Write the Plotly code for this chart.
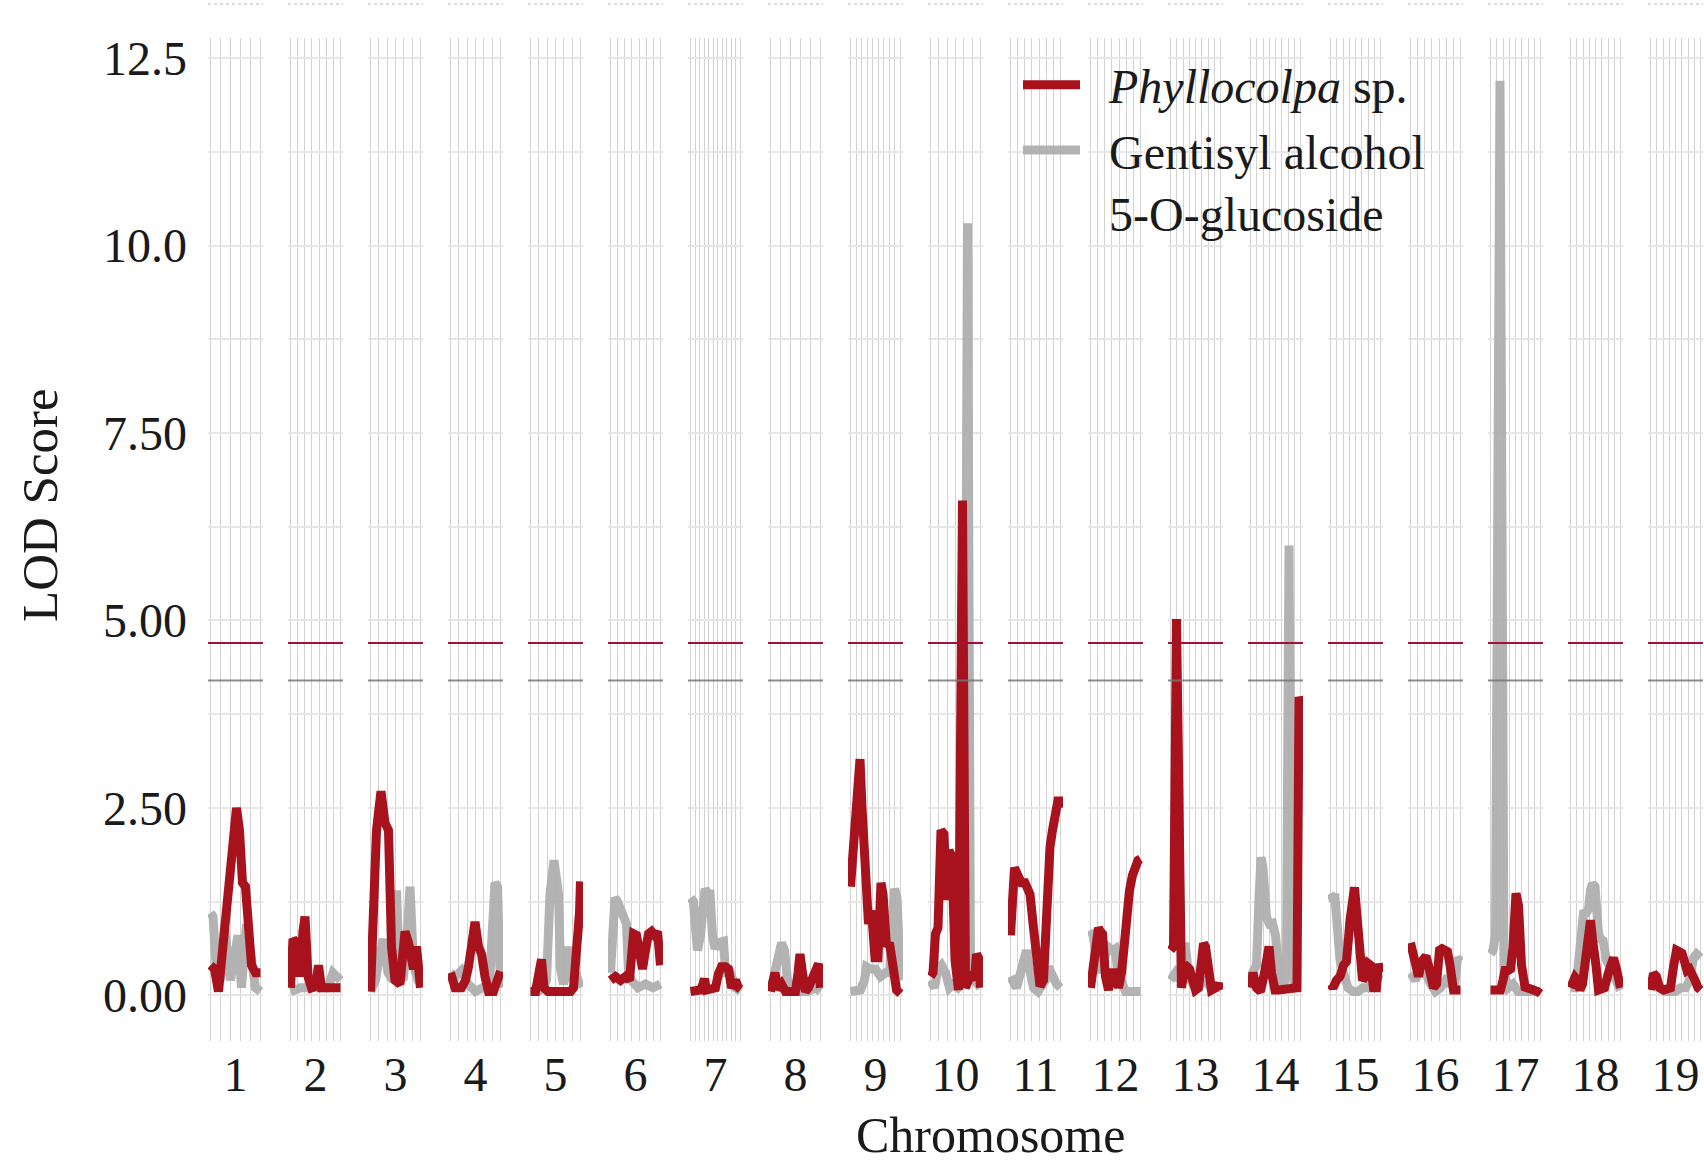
import numpy as np
import plotly.graph_objects as go

# ---- data: LOD profiles per chromosome (position scaled 0-100 within each chromosome)
CHROMOSOMES = [str(i) for i in range(1, 20)]

PHYLLO_POS = [
    [0, 8, 16, 24, 32, 38, 46, 52, 58, 64, 70, 76, 82, 90, 100],
    [0, 5, 12, 19, 25, 29, 35, 42, 50, 56, 62, 75, 90, 100],
    [0, 3, 6, 12, 21, 29, 36, 42, 49, 59, 69, 76, 86, 92, 100],
    [0, 9, 22, 30, 36, 42, 49, 56, 62, 69, 76, 86, 96, 100],
    [0, 10, 17, 22, 27, 35, 50, 65, 80, 86, 90, 95, 98, 100],
    [0, 10, 20, 30, 38, 42, 46, 52, 58, 64, 70, 76, 82, 88, 94, 100],
    [0, 10, 20, 25, 28, 32, 40, 50, 56, 62, 70, 76, 82, 90, 96, 100],
    [0, 5, 9, 14, 22, 30, 40, 50, 55, 59, 64, 70, 76, 85, 92, 96, 100],
    [0, 4, 8, 13, 19, 23, 27, 31, 36, 42, 49, 55, 61, 65, 72, 78, 86, 92, 100],
    [0, 5, 10, 15, 21, 27, 32, 37, 43, 49, 56, 64, 70, 76, 82, 88, 92, 96, 100],
    [0, 3, 8, 16, 22, 29, 35, 39, 46, 52, 59, 66, 72, 79, 84, 89, 96, 100],
    [0, 5, 10, 16, 20, 24, 30, 36, 42, 49, 56, 62, 68, 72, 78, 84, 89, 95, 100],
    [0, 6, 12, 18, 22, 28, 33, 38, 44, 50, 56, 62, 66, 70, 76, 82, 90, 96, 100],
    [0, 5, 12, 20, 28, 32, 37, 42, 49, 56, 62, 70, 80, 88, 93, 97, 100],
    [0, 5, 12, 19, 26, 32, 39, 44, 48, 52, 58, 64, 70, 76, 80, 86, 92, 96, 100],
    [0, 5, 10, 16, 22, 27, 31, 36, 40, 46, 52, 58, 63, 68, 74, 79, 86, 92, 100],
    [0, 10, 20, 25, 29, 35, 40, 45, 51, 56, 62, 69, 78, 86, 94, 100],
    [0, 5, 9, 14, 19, 24, 29, 33, 36, 40, 44, 48, 51, 56, 62, 68, 76, 82, 86, 92, 100],
    [0, 6, 12, 18, 26, 34, 40, 46, 52, 58, 63, 68, 73, 78, 83, 89, 95, 100],
]
PHYLLO_LOD = [
    [0.4, 0.35, 0.05, 0.6, 1.2, 1.65, 1.9, 2.5, 2.2, 1.5, 1.45, 0.9, 0.4, 0.3, 0.3],
    [0.1, 0.75, 0.7, 0.25, 0.85, 1.05, 0.25, 0.1, 0.12, 0.4, 0.1, 0.1, 0.1, 0.1],
    [0.05, 0.6, 1.15, 2.2, 2.72, 2.3, 2.2, 0.65, 0.2, 0.15, 0.85, 0.7, 0.35, 0.65, 0.1],
    [0.3, 0.1, 0.1, 0.2, 0.38, 0.8, 0.98, 0.65, 0.55, 0.25, 0.05, 0.05, 0.3, 0.32],
    [0.05, 0.05, 0.3, 0.48, 0.1, 0.05, 0.05, 0.05, 0.05, 0.1, 0.5, 0.55, 1.1, 1.52],
    [0.2, 0.25, 0.2, 0.25, 0.2, 0.5, 0.82, 0.8, 0.45, 0.35, 0.6, 0.82, 0.85, 0.8, 0.85, 0.4],
    [0.05, 0.05, 0.07, 0.15, 0.22, 0.07, 0.07, 0.1, 0.29, 0.38, 0.38, 0.35, 0.1, 0.2, 0.1, 0.08],
    [0.05, 0.2, 0.3, 0.08, 0.15, 0.05, 0.05, 0.05, 0.3, 0.55, 0.3, 0.05, 0.1, 0.25, 0.35, 0.42, 0.1],
    [1.45, 1.8, 2.2, 2.9, 3.15, 2.5, 1.8, 1.13, 0.95, 1.13, 0.5, 0.5, 1.5, 1.35, 0.65, 0.7, 0.25, 0.07, 0.02],
    [0.25, 0.3, 0.82, 0.9, 2.2, 2.15, 1.27, 1.93, 1.85, 0.47, 0.07, 6.6, 0.1, 0.25, 0.3, 0.2, 0.55, 0.5, 0.1],
    [0.8, 1.5, 1.7, 1.58, 1.5, 1.5, 1.4, 1.35, 0.9, 0.47, 0.12, 0.2, 1.13, 1.98, 2.2, 2.38, 2.64, 2.5],
    [0.1, 0.3, 0.6, 0.9, 0.85, 0.82, 0.25, 0.07, 0.3, 0.3, 0.1, 0.3, 0.7, 1.13, 1.4, 1.6, 1.72, 1.8, 1.82],
    [0.6, 0.65, 5.02, 0.3, 0.1, 0.35, 0.38, 0.35, 0.2, 0.07, 0.1, 0.5, 0.69, 0.65, 0.3, 0.07, 0.1, 0.15, 0.07],
    [0.1, 0.3, 0.1, 0.05, 0.3, 0.47, 0.65, 0.3, 0.07, 0.07, 0.07, 0.07, 0.07, 0.07, 0.1, 3.98, 3.9],
    [0.15, 0.1, 0.2, 0.25, 0.4, 0.45, 1.0, 1.2, 1.44, 1.13, 0.5, 0.2, 0.25, 0.42, 0.4, 0.1, 0.1, 0.42, 0.3],
    [0.7, 0.55, 0.45, 0.25, 0.45, 0.5, 0.52, 0.4, 0.2, 0.1, 0.15, 0.6, 0.62, 0.6, 0.58, 0.4, 0.07, 0.07, 0.07],
    [0.07, 0.07, 0.07, 0.2, 0.33, 0.33, 0.35, 0.64, 1.36, 1.2, 0.4, 0.11, 0.07, 0.07, 0.05, 0.02],
    [0.1, 0.15, 0.24, 0.2, 0.07, 0.15, 0.4, 0.8, 0.9, 1.0, 0.75, 0.6, 0.4, 0.07, 0.07, 0.1, 0.3, 0.45, 0.5, 0.35, 0.1],
    [0.07, 0.29, 0.25, 0.1, 0.07, 0.07, 0.1, 0.38, 0.6, 0.58, 0.56, 0.45, 0.33, 0.35, 0.3, 0.2, 0.1, 0.07],
]

GENT_POS = [
    [0, 5, 12, 20, 28, 40, 55, 62, 72, 80, 90, 100],
    [0, 20, 40, 60, 75, 85, 95, 100],
    [0, 10, 20, 26, 35, 45, 52, 58, 65, 72, 79, 86, 95, 100],
    [0, 10, 22, 35, 50, 65, 78, 84, 89, 94, 98, 100],
    [0, 15, 25, 32, 39, 44, 47, 51, 56, 60, 66, 72, 76, 82, 90, 100],
    [0, 5, 9, 14, 20, 26, 32, 36, 42, 55, 70, 85, 100],
    [0, 6, 10, 14, 20, 25, 29, 35, 39, 44, 49, 55, 62, 66, 70, 80, 90, 100],
    [0, 5, 12, 18, 22, 28, 34, 45, 60, 75, 90, 100],
    [0, 10, 20, 28, 32, 40, 50, 60, 70, 78, 84, 88, 93, 97, 100],
    [0, 8, 15, 22, 30, 38, 46, 55, 62, 68, 74, 80, 88, 95, 100],
    [0, 5, 12, 20, 27, 32, 38, 46, 55, 62, 70, 76, 84, 92, 100],
    [0, 5, 10, 20, 28, 36, 44, 49, 55, 62, 70, 80, 90, 100],
    [0, 10, 20, 25, 29, 34, 40, 50, 60, 70, 80, 90, 100],
    [0, 6, 12, 17, 21, 25, 32, 38, 44, 50, 56, 60, 66, 72, 77, 82, 88, 94, 100],
    [0, 4, 9, 14, 19, 26, 35, 45, 55, 65, 75, 85, 95, 100],
    [0, 10, 20, 30, 40, 50, 60, 70, 80, 88, 94, 100],
    [0, 5, 10, 19, 27, 35, 45, 55, 65, 75, 85, 95, 100],
    [0, 8, 14, 20, 26, 32, 36, 40, 44, 49, 53, 56, 60, 65, 72, 80, 88, 94, 100],
    [0, 10, 20, 30, 40, 50, 60, 70, 78, 86, 92, 100],
]
GENT_LOD = [
    [1.1, 1.05, 0.3, 0.2, 0.9, 0.2, 0.8, 0.1, 0.95, 0.6, 0.1, 0.05],
    [0.05, 0.1, 0.1, 0.1, 0.1, 0.3, 0.25, 0.2],
    [0.05, 0.2, 0.6, 0.75, 0.3, 0.2, 1.4, 0.3, 0.2, 0.6, 1.45, 0.4, 0.2, 0.15],
    [0.3, 0.25, 0.33, 0.15, 0.05, 0.1, 0.15, 0.9, 1.5, 1.45, 0.5, 0.1],
    [0.05, 0.05, 0.1, 0.2, 1.35, 1.7, 1.8, 1.6, 1.35, 0.35, 0.15, 0.3, 0.65, 0.2, 0.3, 0.1],
    [0.3, 1.0, 1.3, 1.25, 1.15, 1.0, 0.95, 0.3, 0.2, 0.1, 0.15, 0.1, 0.15],
    [1.3, 1.25, 0.9, 0.6, 0.8, 1.2, 1.42, 1.35, 1.35, 0.8, 0.62, 0.7, 0.7, 0.72, 0.3, 0.3, 0.1, 0.05],
    [0.05, 0.2, 0.45, 0.65, 0.7, 0.6, 0.2, 0.05, 0.05, 0.05, 0.1, 0.05],
    [0.05, 0.05, 0.07, 0.2, 0.38, 0.35, 0.35, 0.25, 0.3, 0.3, 1.25, 1.42, 1.3, 0.9, 0.2],
    [0.2, 0.1, 0.35, 0.4, 0.3, 0.1, 0.15, 0.1, 0.15, 0.3, 10.3, 0.3, 0.2, 0.15, 0.1],
    [0.25, 0.15, 0.1, 0.3, 0.45, 0.6, 0.35, 0.1, 0.05, 0.1, 0.2, 0.38, 0.25, 0.15, 0.1],
    [0.87, 0.8, 0.6, 0.3, 0.5, 0.64, 0.6, 0.62, 0.3, 0.15, 0.05, 0.05, 0.05, 0.05],
    [0.2, 0.3, 0.2, 0.4, 0.7, 0.4, 0.2, 0.1, 0.15, 0.2, 0.1, 0.1, 0.1],
    [0.25, 0.35, 0.4, 1.3, 1.84, 1.7, 1.04, 0.95, 0.96, 0.8, 0.35, 0.07, 0.1, 0.5, 6.0, 0.5, 0.1, 0.1, 0.1],
    [1.36, 1.3, 1.3, 0.9, 0.47, 0.3, 0.1, 0.05, 0.05, 0.1, 0.1, 0.2, 0.25, 0.2],
    [0.3, 0.2, 0.38, 0.3, 0.15, 0.05, 0.1, 0.2, 0.15, 0.1, 0.5, 0.45],
    [0.55, 0.6, 0.8, 12.2, 0.3, 0.1, 0.15, 0.05, 0.05, 0.05, 0.05, 0.05, 0.05],
    [0.1, 0.1, 0.3, 0.6, 1.09, 1.1, 1.15, 1.4, 1.49, 1.45, 1.0, 0.82, 0.75, 0.73, 0.47, 0.35, 0.25, 0.2, 0.07],
    [0.1, 0.2, 0.1, 0.05, 0.05, 0.05, 0.1, 0.1, 0.2, 0.5, 0.55, 0.5],
]

# vertical grid lines drawn inside each chromosome panel
GRID_LINES = [6, 8, 7, 7, 7, 8, 12, 6, 10, 7, 8, 8, 9, 9, 9, 8, 9, 9, 9]

Y_TICKS = [0, 2.5, 5, 7.5, 10, 12.5]
Y_TICK_LABELS = ["0.00", "2.50", "5.00", "7.50", "10.0", "12.5"]
Y_MINOR = [1.25, 3.75, 6.25, 8.75, 11.25]

THRESH_PHYLLO = 4.7
THRESH_GENT = 4.2

# non-breaking spaces keep a gap between legend swatch and label
PAD = "\u00a0\u00a0"
SERIES_NAMES = [PAD + "<i>Phyllocolpa</i> sp.",
                PAD + "Gentisyl alcohol<br>" + PAD + "5-O-glucoside"]

# ---- styling
RED = "#a8121d"
GREY = "rgba(172,172,172,0.92)"
FONT = "Liberation Serif, 'DejaVu Serif', serif"
W, H = 1704, 1163
ML, MR, MT, MB = 208, 1, 38, 122
PLOT_W = W - ML - MR
PLOT_H = H - MT - MB
PANEL_W, PANEL_STEP = 55, 80
Y_RANGE = [-0.61, 12.77]
X_RANGE = [-5, 105]
LINE_W = 9

fig = go.Figure()

for i, chrom in enumerate(CHROMOSOMES):
    n = i + 1
    xa = "x" if n == 1 else f"x{n}"
    ya = "y" if n == 1 else f"y{n}"
    fig.add_trace(go.Scatter(
        x=GENT_POS[i], y=GENT_LOD[i], xaxis=xa, yaxis=ya,
        mode="lines", line=dict(color=GREY, width=LINE_W),
        name=SERIES_NAMES[1], legendgroup="gent", legendrank=2,
        showlegend=(n == 1), hoverinfo="skip",
    ))
    fig.add_trace(go.Scatter(
        x=PHYLLO_POS[i], y=PHYLLO_LOD[i], xaxis=xa, yaxis=ya,
        mode="lines", line=dict(color=RED, width=LINE_W),
        name=SERIES_NAMES[0], legendgroup="phyllo", legendrank=1,
        showlegend=(n == 1), hoverinfo="skip",
    ))

layout = dict(
    width=W, height=H,
    margin=dict(l=ML, r=MR, t=MT, b=MB),
    paper_bgcolor="white", plot_bgcolor="white",
    font=dict(family=FONT, size=48, color="#1a1a1a"),
    showlegend=True,
    legend=dict(
        x=(1018 - ML) / PLOT_W, y=1 - (47 - MT) / PLOT_H,
        xanchor="left", yanchor="top",
        bgcolor="rgba(255,255,255,0)", font=dict(size=48),
        itemwidth=57, valign="top", tracegroupgap=0,
    ),
)

shapes = []
annotations = []
for i, chrom in enumerate(CHROMOSOMES):
    n = i + 1
    left = i * PANEL_STEP
    dom = [left / PLOT_W, min(1.0, (left + PANEL_W) / PLOT_W)]
    xkey = "xaxis" if n == 1 else f"xaxis{n}"
    ykey = "yaxis" if n == 1 else f"yaxis{n}"
    ya = "y" if n == 1 else f"y{n}"
    xa = "x" if n == 1 else f"x{n}"
    layout[xkey] = dict(
        domain=dom, range=X_RANGE, anchor=ya,
        tickmode="array", tickvals=[50], ticktext=[chrom],
        showgrid=False, zeroline=False, showline=False, ticks="",
        ticklabelstandoff=1, tickfont=dict(size=48),
        minor=dict(tickvals=list(np.linspace(0, 100, GRID_LINES[i])),
                   showgrid=True, gridcolor="#d2d2d2", gridwidth=1.2, ticks=""),
        fixedrange=True,
    )
    layout[ykey] = dict(
        domain=[0, 1], range=Y_RANGE, anchor=xa,
        tickmode="array", tickvals=Y_TICKS, ticktext=Y_TICK_LABELS,
        showticklabels=(n == 1), ticklabelstandoff=20,
        showgrid=True, gridcolor="#e6e6e6", gridwidth=2,
        minor=dict(tickvals=Y_MINOR, showgrid=True, gridcolor="#e6e6e6", gridwidth=2, ticks=""),
        zeroline=False, showline=False, ticks="", fixedrange=True,
    )
    # significance thresholds
    shapes.append(dict(type="line", xref=f"{xa} domain", x0=0, x1=1, yref=ya,
                       y0=THRESH_PHYLLO, y1=THRESH_PHYLLO,
                       line=dict(color="#a0123a", width=2), layer="above"))
    shapes.append(dict(type="line", xref=f"{xa} domain", x0=0, x1=1, yref=ya,
                       y0=THRESH_GENT, y1=THRESH_GENT,
                       line=dict(color="rgba(120,120,120,0.85)", width=2), layer="above"))
    # faint dotted rule along the top edge
    shapes.append(dict(type="line", xref=f"{xa} domain", x0=0, x1=1, yref="paper",
                       y0=1 + (MT - 4) / PLOT_H, y1=1 + (MT - 4) / PLOT_H,
                       line=dict(color="#cfcfcf", width=1.5, dash="dot"), layer="below"))

annotations.append(dict(
    text="LOD Score", textangle=-90, showarrow=False,
    xref="paper", yref="paper",
    x=(40 - ML) / PLOT_W, y=1 - (505 - MT) / PLOT_H,
    xanchor="center", yanchor="middle", font=dict(size=51),
))
annotations.append(dict(
    text="Chromosome", showarrow=False,
    xref="paper", yref="paper",
    x=(990 - ML) / PLOT_W, y=1 - (1135 - MT) / PLOT_H,
    xanchor="center", yanchor="middle", font=dict(size=50),
))

layout["shapes"] = shapes
layout["annotations"] = annotations
fig.update_layout(**layout)

fig.write_html("out.html")
